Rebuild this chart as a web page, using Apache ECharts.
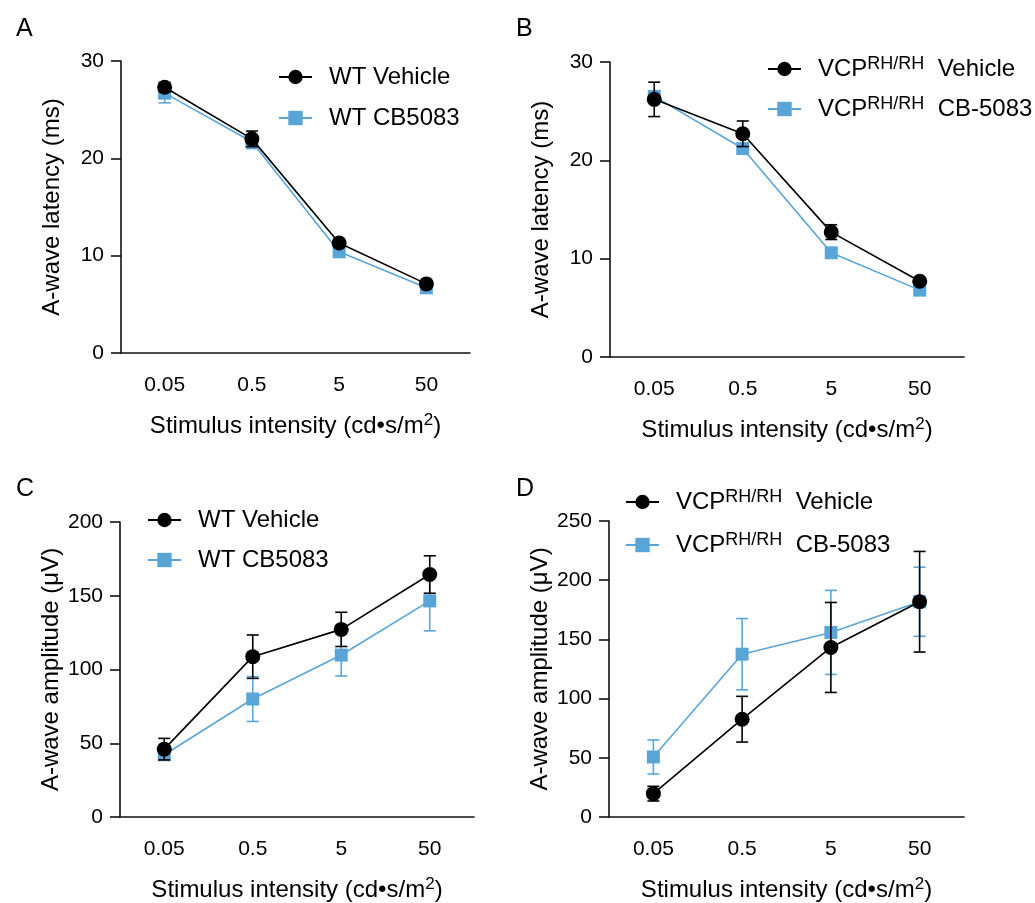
<!DOCTYPE html>
<html>
<head>
<meta charset="utf-8">
<script src="https://cdn.jsdelivr.net/npm/echarts@6/dist/echarts.min.js"></script>
<style>
  html, body { margin: 0; padding: 0; background: #fff; }
  #main { width: 1035px; height: 903px; }
</style>
</head>
<body>
<div id="main"></div>
<script>
const categories = ['0.05', '0.5', '5', '50'];

// A: latency, WT
const aVehicle = [27.3, 22.0, 11.3, 7.1];
const aVehicleErr = [0.5, 0.8, 0.4, 0.3];
const aCB = [26.7, 21.7, 10.4, 6.7];
const aCBErr = [1.0, 0.7, 0.3, 0.3];
// B: latency, VCP RH/RH
const bVehicle = [26.2, 22.7, 12.7, 7.7];
const bVehicleErr = [1.75, 1.3, 0.75, 0.3];
const bCB = [26.5, 21.2, 10.6, 6.8];
const bCBErr = [0.5, 0.4, 0.3, 0.3];
// C: amplitude, WT
const cVehicle = [46, 108.7, 127.2, 164.4];
const cVehicleErr = [7.3, 14.7, 11.6, 12.7];
const cCB = [42.2, 80, 109.8, 146.5];
const cCBErr = [3, 15.2, 14.2, 20.3];
// D: amplitude, VCP RH/RH
const dVehicle = [19.7, 82.6, 143.2, 181.8];
const dVehicleErr = [6.2, 19.3, 38, 42.5];
const dCB = [50.7, 137.5, 155.9, 181.8];
const dCBErr = [14.4, 30.1, 35.5, 29.2];

const BLACK = '#000000';
const BLUE = '#5aa5d8';
const FONT = 'Liberation Sans, Arial, Helvetica, sans-serif';

const chart = echarts.init(document.getElementById('main'));

// vertical error bar with caps
function errorBar(params, api) {
  const x = api.value(0);
  const m = api.value(1);
  const e = api.value(2);
  const top = api.coord([x, m + e]);
  const bot = api.coord([x, m - e]);
  const hw = 6;
  const style = { stroke: api.visual('color'), lineWidth: 1.6 };
  return {
    type: 'group',
    children: [
      { type: 'line', shape: { x1: top[0], y1: top[1], x2: bot[0], y2: bot[1] }, style: style },
      { type: 'line', shape: { x1: top[0] - hw, y1: top[1], x2: top[0] + hw, y2: top[1] }, style: style },
      { type: 'line', shape: { x1: bot[0] - hw, y1: bot[1], x2: bot[0] + hw, y2: bot[1] }, style: style }
    ]
  };
}

function errData(means, errs) {
  return means.map((m, i) => [i, m, errs[i]]);
}

const grids = [
  { left: 121, top: 61, width: 349, height: 292 },
  { left: 610, top: 62, width: 354, height: 295 },
  { left: 120, top: 522, width: 354, height: 295 },
  { left: 609, top: 521, width: 355, height: 296 }
];

const yNames = ['A-wave latency (ms)', 'A-wave latency (ms)', 'A-wave amplitude (μV)', 'A-wave amplitude (μV)'];
const yMax = [30, 30, 200, 250];
const yInterval = [10, 10, 50, 50];

const axisLineStyle = { color: '#111', width: 1.6 };

const xAxes = grids.map((g, i) => ({
  type: 'category',
  gridIndex: i,
  data: categories,
  boundaryGap: true,
  axisLine: { lineStyle: axisLineStyle },
  axisTick: { alignWithLabel: true, length: 12, lineStyle: axisLineStyle },
  axisLabel: { color: '#000', fontSize: 21, fontFamily: FONT, margin: 22 },
  name: '{n|Stimulus intensity (cd•s/m}{s|2}{n|)}',
  nameLocation: 'middle',
  nameGap: 59,
  nameTextStyle: {
    rich: {
      n: { fontSize: 24, fontFamily: FONT, color: '#000', lineHeight: 28 },
      s: { fontSize: 17, fontFamily: FONT, color: '#000', lineHeight: 28, verticalAlign: 'top' }
    }
  }
}));

const yAxes = grids.map((g, i) => ({
  type: 'value',
  gridIndex: i,
  min: 0,
  max: yMax[i],
  interval: yInterval[i],
  splitLine: { show: false },
  axisLine: { show: true, lineStyle: axisLineStyle },
  axisTick: { show: true, length: 10, lineStyle: axisLineStyle },
  axisLabel: { color: '#000', fontSize: 21, fontFamily: FONT, margin: 17 },
  name: yNames[i],
  nameLocation: 'middle',
  nameGap: 57,
  nameTextStyle: { fontSize: 24, fontFamily: FONT, color: '#000' }
}));

const panels = [
  { v: aVehicle, ve: aVehicleErr, c: aCB, ce: aCBErr, names: ['WT Vehicle', 'WT CB5083'] },
  { v: bVehicle, ve: bVehicleErr, c: bCB, ce: bCBErr, names: ['VCP RH/RH Vehicle', 'VCP RH/RH CB-5083'] },
  { v: cVehicle, ve: cVehicleErr, c: cCB, ce: cCBErr, names: ['WT Vehicle ', 'WT CB5083 '] },
  { v: dVehicle, ve: dVehicleErr, c: dCB, ce: dCBErr, names: ['VCP RH/RH Vehicle ', 'VCP RH/RH CB-5083 '] }
];

const series = [];
panels.forEach((p, i) => {
  series.push({
    type: 'custom', name: 'errCB' + i, xAxisIndex: i, yAxisIndex: i,
    renderItem: errorBar, itemStyle: { color: BLUE },
    encode: { x: 0, y: 1 }, data: errData(p.c, p.ce), z: 2
  });
  series.push({
    type: 'line', name: p.names[1], xAxisIndex: i, yAxisIndex: i,
    data: p.c, symbol: 'rect', symbolSize: 13,
    itemStyle: { color: BLUE }, lineStyle: { color: BLUE, width: 1.6 }, z: 3
  });
  series.push({
    type: 'custom', name: 'errV' + i, xAxisIndex: i, yAxisIndex: i,
    renderItem: errorBar, itemStyle: { color: BLACK },
    encode: { x: 0, y: 1 }, data: errData(p.v, p.ve), z: 4
  });
  series.push({
    type: 'line', name: p.names[0], xAxisIndex: i, yAxisIndex: i,
    data: p.v, symbol: 'circle', symbolSize: 15,
    itemStyle: { color: BLACK }, lineStyle: { color: BLACK, width: 1.6 }, z: 5
  });
});

const legendRich = {
  n: { fontSize: 24, fontFamily: FONT, color: '#000', lineHeight: 28 },
  s: { fontSize: 18, fontFamily: FONT, color: '#000', lineHeight: 28, verticalAlign: 'top' }
};

function vcpFormatter(name) {
  const rest = name.trim().replace('VCP RH/RH ', '');
  return '{n|VCP}{s|RH/RH}{n|  ' + rest + '}';
}

const legendPos = [
  { left: 278, top: 65, gap: 17 },
  { left: 767, top: 55, gap: 14 },
  { left: 147, top: 508, gap: 16 },
  { left: 625, top: 488, gap: 17 }
];

const legends = panels.map((p, i) => ({
  orient: 'vertical',
  left: legendPos[i].left,
  top: legendPos[i].top,
  padding: 0,
  itemGap: legendPos[i].gap,
  itemWidth: 33,
  itemHeight: 18,
  selectedMode: false,
  data: [p.names[0], p.names[1]],
  formatter: (i % 2 === 1) ? vcpFormatter : (name => '{n|' + name.trim() + '}'),
  textStyle: { padding: [0, 0, 0, 12], rich: legendRich }
}));

const titles = [
  { text: 'A', left: 11, top: 12 },
  { text: 'B', left: 511, top: 12 },
  { text: 'C', left: 11, top: 472 },
  { text: 'D', left: 511, top: 472 }
].map(t => Object.assign(t, {
  textStyle: { fontSize: 25, fontWeight: 'normal', fontFamily: FONT, color: '#000' }
}));

chart.setOption({
  animation: false,
  backgroundColor: '#fff',
  title: titles,
  legend: legends,
  grid: grids,
  xAxis: xAxes,
  yAxis: yAxes,
  series: series
});
</script>
</body>
</html>
